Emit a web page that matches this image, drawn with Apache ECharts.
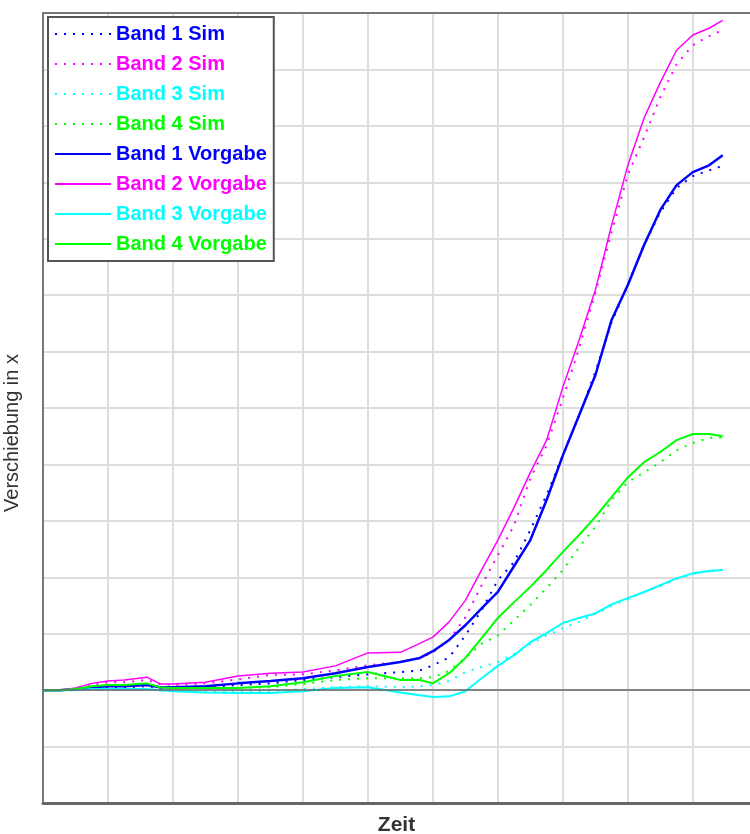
<!DOCTYPE html>
<html>
<head>
<meta charset="utf-8">
<script src="https://cdn.jsdelivr.net/npm/echarts@6/dist/echarts.min.js"></script>
<style>
  html, body { margin: 0; padding: 0; background: #fff; }
  #chart { width: 750px; height: 834px; }
</style>
</head>
<body>
<div id="chart"></div>
<script>
// Zeit (gemeinsame Abtastpunkte fuer alle Kurven)
const zeit = [0, 0.25, 0.5, 0.75, 1, 1.25, 1.6, 1.8, 2, 2.5, 3, 3.5, 4, 4.5, 5, 5.5, 5.8, 6,
  6.25, 6.5, 6.75, 7, 7.25, 7.5, 7.75, 8, 8.25, 8.5, 8.75, 9, 9.25, 9.5, 9.75, 10, 10.25, 10.46];

const band1Sim = [0, 0, 0.02, 0.04, 0.05, 0.05, 0.07, 0.04, 0.04, 0.05, 0.09, 0.12, 0.18, 0.23, 0.28, 0.32, 0.35, 0.44,
  0.58, 0.97, 1.42, 1.95, 2.27, 2.84, 3.46, 4.16, 4.87, 5.64, 6.52, 7.18, 7.89, 8.47, 8.90, 9.11, 9.21, 9.29];
const band2Sim = [0, 0, 0.02, 0.09, 0.14, 0.14, 0.18, 0.11, 0.09, 0.12, 0.19, 0.27, 0.28, 0.35, 0.44, 0.50, 0.57, 0.67,
  0.89, 1.29, 1.86, 2.39, 2.92, 3.76, 4.34, 5.17, 6.06, 7.04, 8.12, 9.13, 9.80, 10.51, 11.09, 11.43, 11.59, 11.70];
const band3Sim = [0, 0, 0, 0.02, 0.02, 0.02, 0.02, 0, 0, -0.02, -0.02, -0.02, 0.02, 0.05, 0.07, 0.05, 0.07, 0.09,
  0.16, 0.32, 0.41, 0.50, 0.64, 0.82, 0.97, 1.10, 1.21, 1.35, 1.49, 1.61, 1.74, 1.84, 1.97, 2.06, 2.11, 2.13];
const band4Sim = [0, 0, 0.02, 0.05, 0.07, 0.07, 0.09, 0.04, 0.04, 0.04, 0.04, 0.05, 0.11, 0.18, 0.21, 0.21, 0.21, 0.23,
  0.34, 0.57, 0.82, 0.97, 1.24, 1.51, 1.81, 2.13, 2.53, 2.89, 3.37, 3.69, 3.86, 4.04, 4.25, 4.38, 4.47, 4.48];

const band1Vorgabe = [0, 0, 0.02, 0.05, 0.07, 0.07, 0.09, 0.05, 0.05, 0.07, 0.12, 0.16, 0.21, 0.30, 0.41, 0.50, 0.57, 0.69,
  0.89, 1.15, 1.45, 1.74, 2.20, 2.66, 3.37, 4.16, 4.87, 5.58, 6.56, 7.18, 7.89, 8.51, 8.95, 9.18, 9.30, 9.48];
const band2Vorgabe = [0, 0, 0.04, 0.12, 0.16, 0.18, 0.23, 0.11, 0.11, 0.14, 0.25, 0.30, 0.32, 0.43, 0.66, 0.67, 0.83, 0.94,
  1.21, 1.59, 2.13, 2.66, 3.24, 3.86, 4.43, 5.37, 6.20, 7.09, 8.24, 9.30, 10.14, 10.77, 11.34, 11.61, 11.73, 11.87];
const band3Vorgabe = [0, 0, 0, 0.02, 0.02, 0.02, 0.02, 0, -0.02, -0.04, -0.05, -0.05, -0.02, 0.04, 0.05, -0.04, -0.09, -0.12,
  -0.11, -0.02, 0.21, 0.43, 0.62, 0.85, 1.01, 1.19, 1.28, 1.36, 1.52, 1.63, 1.74, 1.86, 1.98, 2.07, 2.11, 2.13];
const band4Vorgabe = [0, 0, 0.02, 0.07, 0.09, 0.09, 0.12, 0.05, 0.04, 0.04, 0.04, 0.07, 0.14, 0.25, 0.32, 0.18, 0.18, 0.12,
  0.30, 0.57, 0.92, 1.28, 1.56, 1.83, 2.13, 2.45, 2.75, 3.07, 3.42, 3.77, 4.04, 4.22, 4.43, 4.54, 4.54, 4.50];

const colors = ["#0000FF", "#FF00FF", "#00FFFF", "#00FF00"];
const simData = [band1Sim, band2Sim, band3Sim, band4Sim];
const vorgabeData = [band1Vorgabe, band2Vorgabe, band3Vorgabe, band4Vorgabe];
const vorgabeWidth = [2.5, 1.5, 2, 2];

const font = "'Liberation Sans', Arial, sans-serif";
const pairs = (ys) => zeit.map((x, i) => [x, ys[i]]);

const series = [];
simData.forEach((ys, i) => {
  series.push({
    name: `Band ${i + 1} Sim`,
    type: "line",
    data: pairs(ys),
    symbol: "none",
    color: colors[i],
    lineStyle: { color: colors[i], width: 2, type: [2, 7] },
  });
});
vorgabeData.forEach((ys, i) => {
  series.push({
    name: `Band ${i + 1} Vorgabe`,
    type: "line",
    data: pairs(ys),
    symbol: "none",
    color: colors[i],
    lineStyle: { color: colors[i], width: vorgabeWidth[i], type: "solid" },
  });
});

// Nulllinie
series[0].markLine = {
  silent: true,
  symbol: "none",
  label: { show: false },
  lineStyle: { color: "#666", width: 1.5, type: "solid" },
  data: [{ yAxis: 0 }],
};

const chart = echarts.init(document.getElementById("chart"));
chart.setOption({
  animation: false,
  backgroundColor: "#fff",
  textStyle: { fontFamily: font },
  grid: { left: 43, top: 13, right: 0, bottom: 31, outerBoundsMode: "none", containLabel: false },
  legend: {
    orient: "vertical",
    left: 48,
    top: 17,
    padding: [7, 7, 7, 6],
    itemWidth: 56,
    itemHeight: 10,
    itemGap: 10,
    backgroundColor: "#fff",
    borderColor: "#555",
    borderWidth: 2,
    borderRadius: 0,
    itemStyle: { opacity: 0 },
    textStyle: { fontSize: 20, fontWeight: "bold", lineHeight: 20, fontFamily: font },
    data: series.map((s) => ({ name: s.name, textStyle: { color: s.color } })),
  },
  xAxis: [
    {
      type: "value",
      min: 0,
      max: 10.88,
      interval: 1,
      name: "Zeit",
      nameLocation: "middle",
      nameGap: 12,
      nameTextStyle: { color: "#333", fontSize: 21, fontWeight: "bold", fontFamily: font },
      axisLine: { show: true, onZero: false, lineStyle: { color: "#666", width: 3 } },
      axisTick: { show: false },
      axisLabel: { show: false },
      splitLine: { show: true, showMaxLine: false, lineStyle: { color: "#ddd", width: 2 } },
    },
    {
      type: "value",
      position: "top",
      min: 0,
      max: 10.88,
      axisLine: { show: true, onZero: false, lineStyle: { color: "#777", width: 2 } },
      axisTick: { show: false },
      axisLabel: { show: false },
      splitLine: { show: false },
    },
  ],
  yAxis: {
    type: "value",
    min: -2,
    max: 12,
    interval: 1,
    name: "Verschiebung in x",
    nameLocation: "middle",
    nameGap: 21,
    nameTextStyle: { color: "#333", fontSize: 20, fontFamily: font, padding: [0, 50, 0, 0] },
    axisLine: { show: true, onZero: false, lineStyle: { color: "#777", width: 2 } },
    axisTick: { show: false },
    axisLabel: { show: false },
    splitLine: { show: true, lineStyle: { color: "#ddd", width: 2 } },
  },
  series: series,
});
</script>
</body>
</html>
